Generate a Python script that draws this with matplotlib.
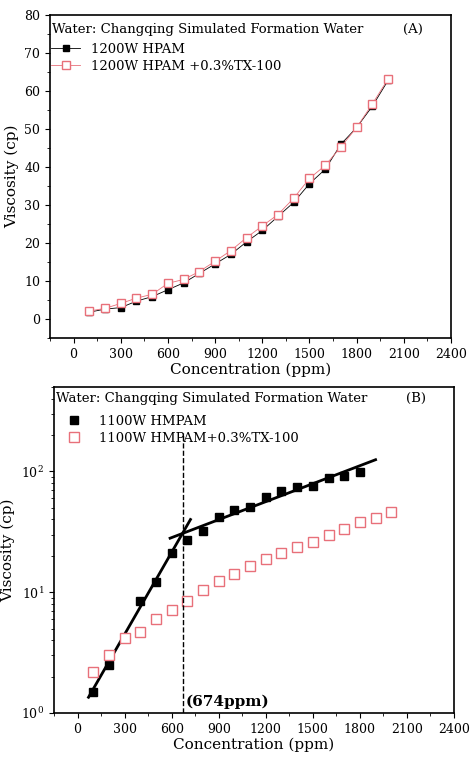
import numpy as np
import matplotlib.pyplot as plt
from matplotlib.ticker import MultipleLocator, LogLocator, NullFormatter

plt.rcParams['font.family'] = ['DejaVu Serif']
plt.rcParams['font.size'] = 9.5

conc_a = [100, 200, 300, 400, 500, 600, 700, 800, 900, 1000,
          1100, 1200, 1300, 1400, 1500, 1600, 1700, 1800, 1900, 2000]
hpam = [1.8, 2.6, 3.0, 4.7, 5.9, 7.7, 9.5, 12.0, 14.5, 17.0,
        20.3, 23.3, 27.0, 30.7, 35.6, 39.4, 46.0, 50.4, 56.0, 62.8]
hpam_tx = [2.1, 2.8, 4.1, 5.5, 6.5, 9.4, 10.4, 12.5, 15.2, 18.0,
           21.4, 24.5, 27.5, 31.8, 37.0, 40.4, 45.3, 50.4, 56.6, 63.2]

conc_b1 = [100, 200, 400, 500, 600, 700, 800, 900, 1000, 1100,
           1200, 1300, 1400, 1500, 1600, 1700, 1800]
hmpam = [1.5, 2.5, 8.5, 12.2, 21, 27, 32, 42, 48, 51,
         61, 69, 74, 76, 89, 91, 98]
conc_b2 = conc_a
hmpam_tx = [2.2, 3.0, 4.2, 4.7, 6.0, 7.1, 8.5, 10.5, 12.5, 14.2,
            16.5, 18.9, 21.2, 23.5, 26.0, 29.5, 33.5, 38.0, 41.0, 46.0]

# fitted lines
fit1_x = [70, 720]
fit1_y = [1.35, 40]
fit2_x = [590, 1900]
fit2_y = [28, 125]
cmc = 674

fig = plt.figure(figsize=(4.74, 7.68), dpi=100)
ax1 = fig.add_axes([50/474, 1-338/768, 401/474, 323/768])
ax2 = fig.add_axes([54/474, 1-713/768, 400/474, 326/768])

pink = '#e8707a'
ax1.plot(conc_a, hpam, '-s', color='black', mfc='black', ms=5, lw=0.6,
         label='1200W HPAM')
ax1.plot(conc_a, hpam_tx, '-s', color=pink, mfc='white', ms=6, lw=0.6,
         label='1200W HPAM +0.3%TX-100')
ax1.set_xlim(-150, 2400)
ax1.set_ylim(-5, 80)
ax1.yaxis.set_major_locator(MultipleLocator(10))
ax1.yaxis.set_minor_locator(MultipleLocator(5))
ax1.set_ylabel('Viscosity (cp)', fontsize=11)
ax1.text(0.005, 0.975, 'Water: Changqing Simulated Formation Water',
         transform=ax1.transAxes, va='top')
ax1.text(0.93, 0.975, '(A)', transform=ax1.transAxes, va='top', ha='right')
ax1.legend(loc='upper left', bbox_to_anchor=(-0.01, 0.93), frameon=False,
           fontsize=9.5, handlelength=2.2, borderaxespad=0, labelspacing=0.3)

ax2.plot(fit1_x, fit1_y, '-', color='black', lw=2)
ax2.plot(fit2_x, fit2_y, '-', color='black', lw=2)
ax2.plot(conc_b1, hmpam, 's', color='black', ms=5.5, label='1100W HMPAM', ls='none')
ax2.plot(conc_b2, hmpam_tx, 's', color=pink, mfc='white', ms=6.5,
         label='1100W HMPAM+0.3%TX-100', ls='none')
ax2.axvline(cmc, ymax=0.86, color='black', ls='--', lw=1.0)
ax2.text(cmc + 15, 1.08, '(674ppm)', fontsize=11, fontweight='bold', va='bottom')
ax2.set_yscale('log')
ax2.set_xlim(-150, 2400)
ax2.set_ylim(1, 500)
ax2.yaxis.set_major_locator(LogLocator(base=10, numticks=5))
ax2.yaxis.set_minor_locator(LogLocator(base=10, subs=np.arange(2, 10), numticks=12))
ax2.yaxis.set_minor_formatter(NullFormatter())
ax2.set_ylabel('Viscosity (cp)', fontsize=11)
ax2.text(0.005, 0.985, 'Water: Changqing Simulated Formation Water',
         transform=ax2.transAxes, va='top')
ax2.text(0.93, 0.985, '(B)', transform=ax2.transAxes, va='top', ha='right')
ax2.legend(loc='upper left', bbox_to_anchor=(0.0, 0.93), frameon=False,
           fontsize=9.5, handlelength=2.2, borderaxespad=0, labelspacing=0.3)

for ax in (ax1, ax2):
    ax.xaxis.set_major_locator(MultipleLocator(300))
    ax.xaxis.set_minor_locator(MultipleLocator(150))
    ax.set_xlabel('Concentration (ppm)', fontsize=11, labelpad=1)
    ax.tick_params(direction='out', labelsize=9)
    for s in ax.spines.values():
        s.set_linewidth(1.2)

fig.savefig('out.png', dpi=100)
